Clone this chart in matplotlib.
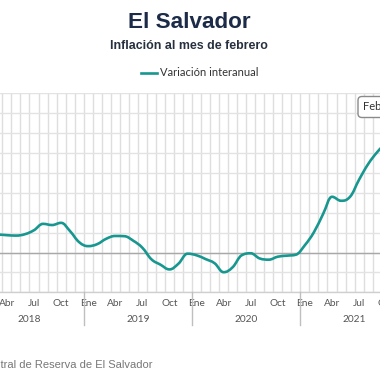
import matplotlib
matplotlib.use("Agg")
import matplotlib.pyplot as plt
from matplotlib.path import Path
from matplotlib.patches import PathPatch
import matplotlib.transforms as mtransforms

# monthly series, Jan 2018 .. Feb 2022 (year-on-year %)
months = ["Ene", "Feb", "Mar", "Abr", "May", "Jun", "Jul", "Ago", "Sep", "Oct", "Nov", "Dic"]
years = ["2018", "2019", "2020", "2021", "2022"]
inflacion_2018 = [0.92, 0.90, 0.90, 0.87, 0.85, 0.92, 1.12, 1.44, 1.38, 1.49, 1.07, 0.52]
inflacion_2019 = [0.32, 0.42, 0.69, 0.83, 0.82, 0.59, 0.24, -0.34, -0.61, -0.85, -0.56, -0.06]
inflacion_2020 = [-0.14, -0.33, -0.54, -0.99, -0.74, -0.14, -0.04, -0.30, -0.36, -0.21, -0.16, -0.11]
inflacion_2021 = [0.37, 1.02, 1.92, 2.80, 2.60, 2.80, 3.66, 4.44, 5.04, 5.50, 5.80, 6.10]
inflacion_2022 = [6.30, 6.60]

serie = inflacion_2018 + inflacion_2019 + inflacion_2020 + inflacion_2021 + inflacion_2022
n = len(serie)
xs = list(range(n))

TEAL = "#17978f"
GRID = "#e3e3e3"


def spline_path(xs, ys, smoothing=1.5):
    # highcharts-like spline smoothing
    d = smoothing + 1
    lc = []
    rc = []
    for i in range(len(xs)):
        x, y = xs[i], ys[i]
        if 0 < i < len(xs) - 1:
            lx, ly = xs[i - 1], ys[i - 1]
            nx, ny = xs[i + 1], ys[i + 1]
            lcx = (smoothing * x + lx) / d
            lcy = (smoothing * y + ly) / d
            rcx = (smoothing * x + nx) / d
            rcy = (smoothing * y + ny) / d
            if rcx != lcx:
                corr = ((rcy - lcy) * (rcx - x)) / (rcx - lcx) + y - rcy
                lcy += corr
                rcy += corr
            if lcy > ly and lcy > y:
                lcy = max(ly, y)
                rcy = 2 * y - lcy
            elif lcy < ly and lcy < y:
                lcy = min(ly, y)
                rcy = 2 * y - lcy
            if rcy > ny and rcy > y:
                rcy = max(ny, y)
                lcy = 2 * y - rcy
            elif rcy < ny and rcy < y:
                rcy = min(ny, y)
                lcy = 2 * y - rcy
            lc.append((lcx, lcy))
            rc.append((rcx, rcy))
        else:
            lc.append((x, y))
            rc.append((x, y))
    verts = [(xs[0], ys[0])]
    codes = [Path.MOVETO]
    for i in range(1, len(xs)):
        verts += [rc[i - 1], lc[i], (xs[i], ys[i])]
        codes += [Path.CURVE4] * 3
    return Path(verts, codes)


W = H = 380.0
fig = plt.figure(figsize=(3.8, 3.8), dpi=100)
fig.patch.set_facecolor("white")

# plot area in pixels (it runs past the picture edges)
left_px, right_px = -24.7, 426.8
top_px, bottom_px = 93.3, 292.3
ax = fig.add_axes([left_px / W, 1 - bottom_px / H, (right_px - left_px) / W, (bottom_px - top_px) / H])

ax.set_xlim(-0.5, n - 0.5)
ax.set_ylim(-2, 8)

for s in ax.spines.values():
    s.set_visible(False)

ax.set_yticks(range(-2, 9))
ax.tick_params(axis="y", length=0, labelleft=False)
ax.yaxis.grid(True, color=GRID, lw=1.0)
ax.axhline(0, color="#a8a8a8", lw=1.0, zorder=1)
ax.axhline(-2, color="#cfcfcf", lw=1.0, zorder=1, clip_on=False)

ax.set_xticks([i + 0.5 for i in range(-1, n)], minor=True)
ax.xaxis.grid(True, which="minor", color="#dedede", lw=1.0)
lab_pos = [i for i in xs if i % 3 == 0]
ax.set_xticks(lab_pos)
ax.set_xticklabels([months[i % 12] for i in lab_pos], fontsize=7.3, color="#555555", family="Lato")
ax.tick_params(axis="x", which="both", length=0, pad=4.5)
ax.set_axisbelow(True)

trans = mtransforms.blended_transform_factory(ax.transData, ax.transAxes)
for k, yr in enumerate(years):
    start = k * 12 - 0.5
    ax.plot([start, start], [0, -0.165], color="#bfbfbf", lw=1.0, transform=trans, clip_on=False)
    ax.text((start + start + 12) / 2, -0.136, yr, transform=trans, ha="center", va="center",
            fontsize=7.3, color="#555555", family="Lato")

patch = PathPatch(spline_path(xs, serie), facecolor="none", edgecolor=TEAL, lw=1.9,
                  capstyle="round", joinstyle="round", zorder=3)
ax.add_patch(patch)

fig.text(189 / W, 1 - 22 / H, "El Salvador", ha="center", va="center", fontsize=16.2,
         fontweight="bold", color="#1c2b47", family="Liberation Sans")
fig.text(189 / W, 1 - 46 / H, "Inflación al mes de febrero", ha="center", va="center", fontsize=8.9,
         fontweight="bold", color="#26303f", family="Liberation Sans")

ax.plot([], [], color=TEAL, lw=1.9, label="Variación interanual")
fig.legend(loc="center", bbox_to_anchor=(200 / W, 1 - 73 / H), frameon=False,
           handlelength=1.45, handletextpad=0.3, prop={"family": "Lato", "size": 8},
           labelcolor="#333333")

fig.text(152.7 / W, 1 - 365 / H, "Fuente: Banco Central de Reserva de El Salvador", ha="right",
         va="center", fontsize=8, color="#777777", family="Liberation Sans")

# tooltip box partly outside the picture
fig.text(363 / W, 1 - 107 / H, "Feb 2022: 6.6%", ha="left", va="center", fontsize=8,
         color="#333333", family="Lato",
         bbox=dict(boxstyle="round,pad=0.45,rounding_size=0.35", fc="white", ec="#8a8a8a", lw=1.0))

fig.savefig("out.png", dpi=100)
